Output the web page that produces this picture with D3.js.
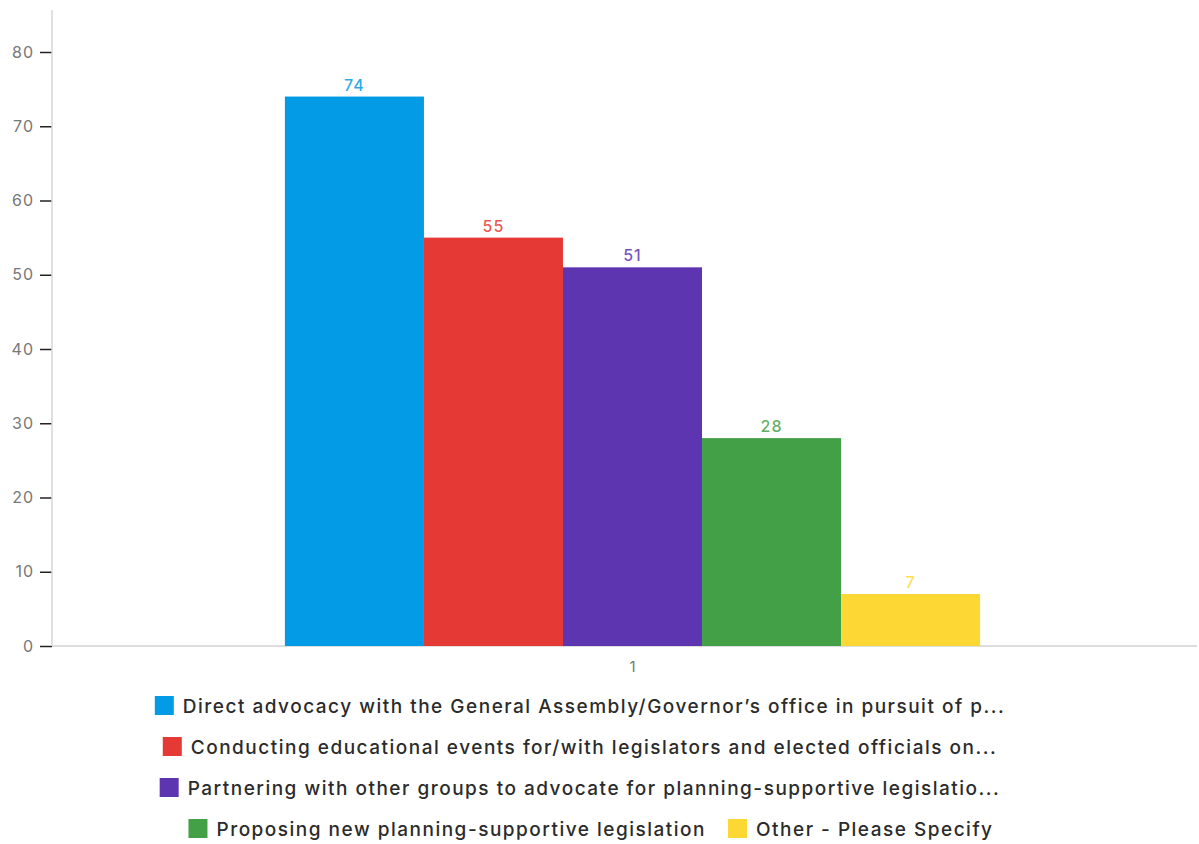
<!DOCTYPE html>
<html>
<head>
<meta charset="utf-8">
<script src="https://cdn.jsdelivr.net/npm/d3@7"></script>
<style>
  html, body { margin: 0; padding: 0; background: #fff; }
  svg { display: block; font-family: Inter, "Noto Sans", sans-serif; }
</style>
</head>
<body>
<svg id="chart" width="1199" height="844"></svg>
<script>
// Survey responses: advocacy activities
const groups = ["1"];
const seriesNames = [
  "Direct advocacy with the General Assembly/Governor\u2019s office in pursuit of p...",
  "Conducting educational events for/with legislators and elected officials on...",
  "Partnering with other groups to advocate for planning-supportive legislatio...",
  "Proposing new planning-supportive legislation",
  "Other - Please Specify"
];
const seriesValues = [74, 55, 51, 28, 7];
const seriesColors = ["#039be5", "#e53935", "#5e35b1", "#43a047", "#fdd835"];
const yTicks = [0, 10, 20, 30, 40, 50, 60, 70, 80];
// legend rows: indexes of series shown on each line
const legendRows = [[0], [1], [2], [3, 4]];

(function () {
  const svg = d3.select("#chart");
  const plotL = 52, plotR = 1197, plotT = 10, plotB = 646;

  const y = d3.scaleLinear().domain([0, 80]).range([plotB, 52]);
  const x0 = d3.scaleBand().domain(groups).range([plotL, 1213]).paddingOuter(0.335).paddingInner(0);
  const x1 = d3.scaleBand().domain(d3.range(seriesValues.length)).range([0, x0.bandwidth()]).padding(0);

  // y axis
  const yAxis = d3.axisLeft(y).tickValues(yTicks).tickSize(12).tickPadding(6);
  const gy = svg.append("g").attr("transform", `translate(${plotL},0)`).call(yAxis);
  gy.select(".domain").remove();
  gy.selectAll(".tick line").attr("stroke", "#222").attr("stroke-width", 1.5);
  gy.selectAll(".tick text").attr("fill", "#777").style("font-size", "16px")
    .style("letter-spacing", "1px").style("font-family", "Inter, sans-serif");
  svg.append("line").attr("x1", plotL).attr("x2", plotL).attr("y1", plotT).attr("y2", plotB)
    .attr("stroke", "#d6d6d6").attr("stroke-width", 1.5);

  // x axis
  const xAxis = d3.axisBottom(x0).tickSize(0).tickPadding(15);
  const gx = svg.append("g").attr("transform", `translate(0,${plotB})`).call(xAxis);
  gx.select(".domain").remove();
  gx.selectAll(".tick text").attr("fill", "#777").style("font-size", "15px").style("font-family", "Inter, sans-serif");
  svg.append("line").attr("x1", plotL).attr("x2", plotR).attr("y1", plotB).attr("y2", plotB)
    .attr("stroke", "#dddddd").attr("stroke-width", 2);

  // bars
  const g = svg.append("g").attr("transform", `translate(${x0(groups[0])},0)`);
  g.selectAll("rect").data(seriesValues).join("rect")
    .attr("x", (d, i) => x1(i))
    .attr("width", x1.bandwidth())
    .attr("y", d => y(d))
    .attr("height", d => plotB - y(d))
    .attr("fill", (d, i) => seriesColors[i]);

  g.selectAll("text.val").data(seriesValues).join("text")
    .attr("class", "val")
    .attr("x", (d, i) => x1(i) + x1.bandwidth() / 2)
    .attr("y", d => y(d) - 6)
    .attr("text-anchor", "middle")
    .attr("fill", (d, i) => seriesColors[i])
    .attr("fill-opacity", 0.85)
    .style("font-size", "16px")
    .style("font-weight", 500)
    .style("letter-spacing", "1px")
    .text(d => d);

  // legend
  const legend = svg.append("g");
  const rowY = [706, 747, 788, 829];
  const rowCenter = [580, 580, 580, 591];
  legendRows.forEach((row, r) => {
    const rg = legend.append("g");
    let cx = 0;
    row.forEach((si, k) => {
      if (k > 0) cx += 22;
      rg.append("rect").attr("x", cx).attr("y", rowY[r] - 10).attr("width", 19).attr("height", 19)
        .attr("fill", seriesColors[si]);
      const t = rg.append("text").attr("x", cx + 28).attr("y", rowY[r]).attr("dy", "0.35em")
        .attr("fill", "#2b2b2b").style("font-size", "19px").style("font-weight", 500)
        .style("letter-spacing", "1.5px")
        .text(seriesNames[si]);
      cx += 28 + t.node().getComputedTextLength();
    });
    rg.attr("transform", `translate(${rowCenter[r] - cx / 2},0)`);
  });
})();
</script>
</body>
</html>
